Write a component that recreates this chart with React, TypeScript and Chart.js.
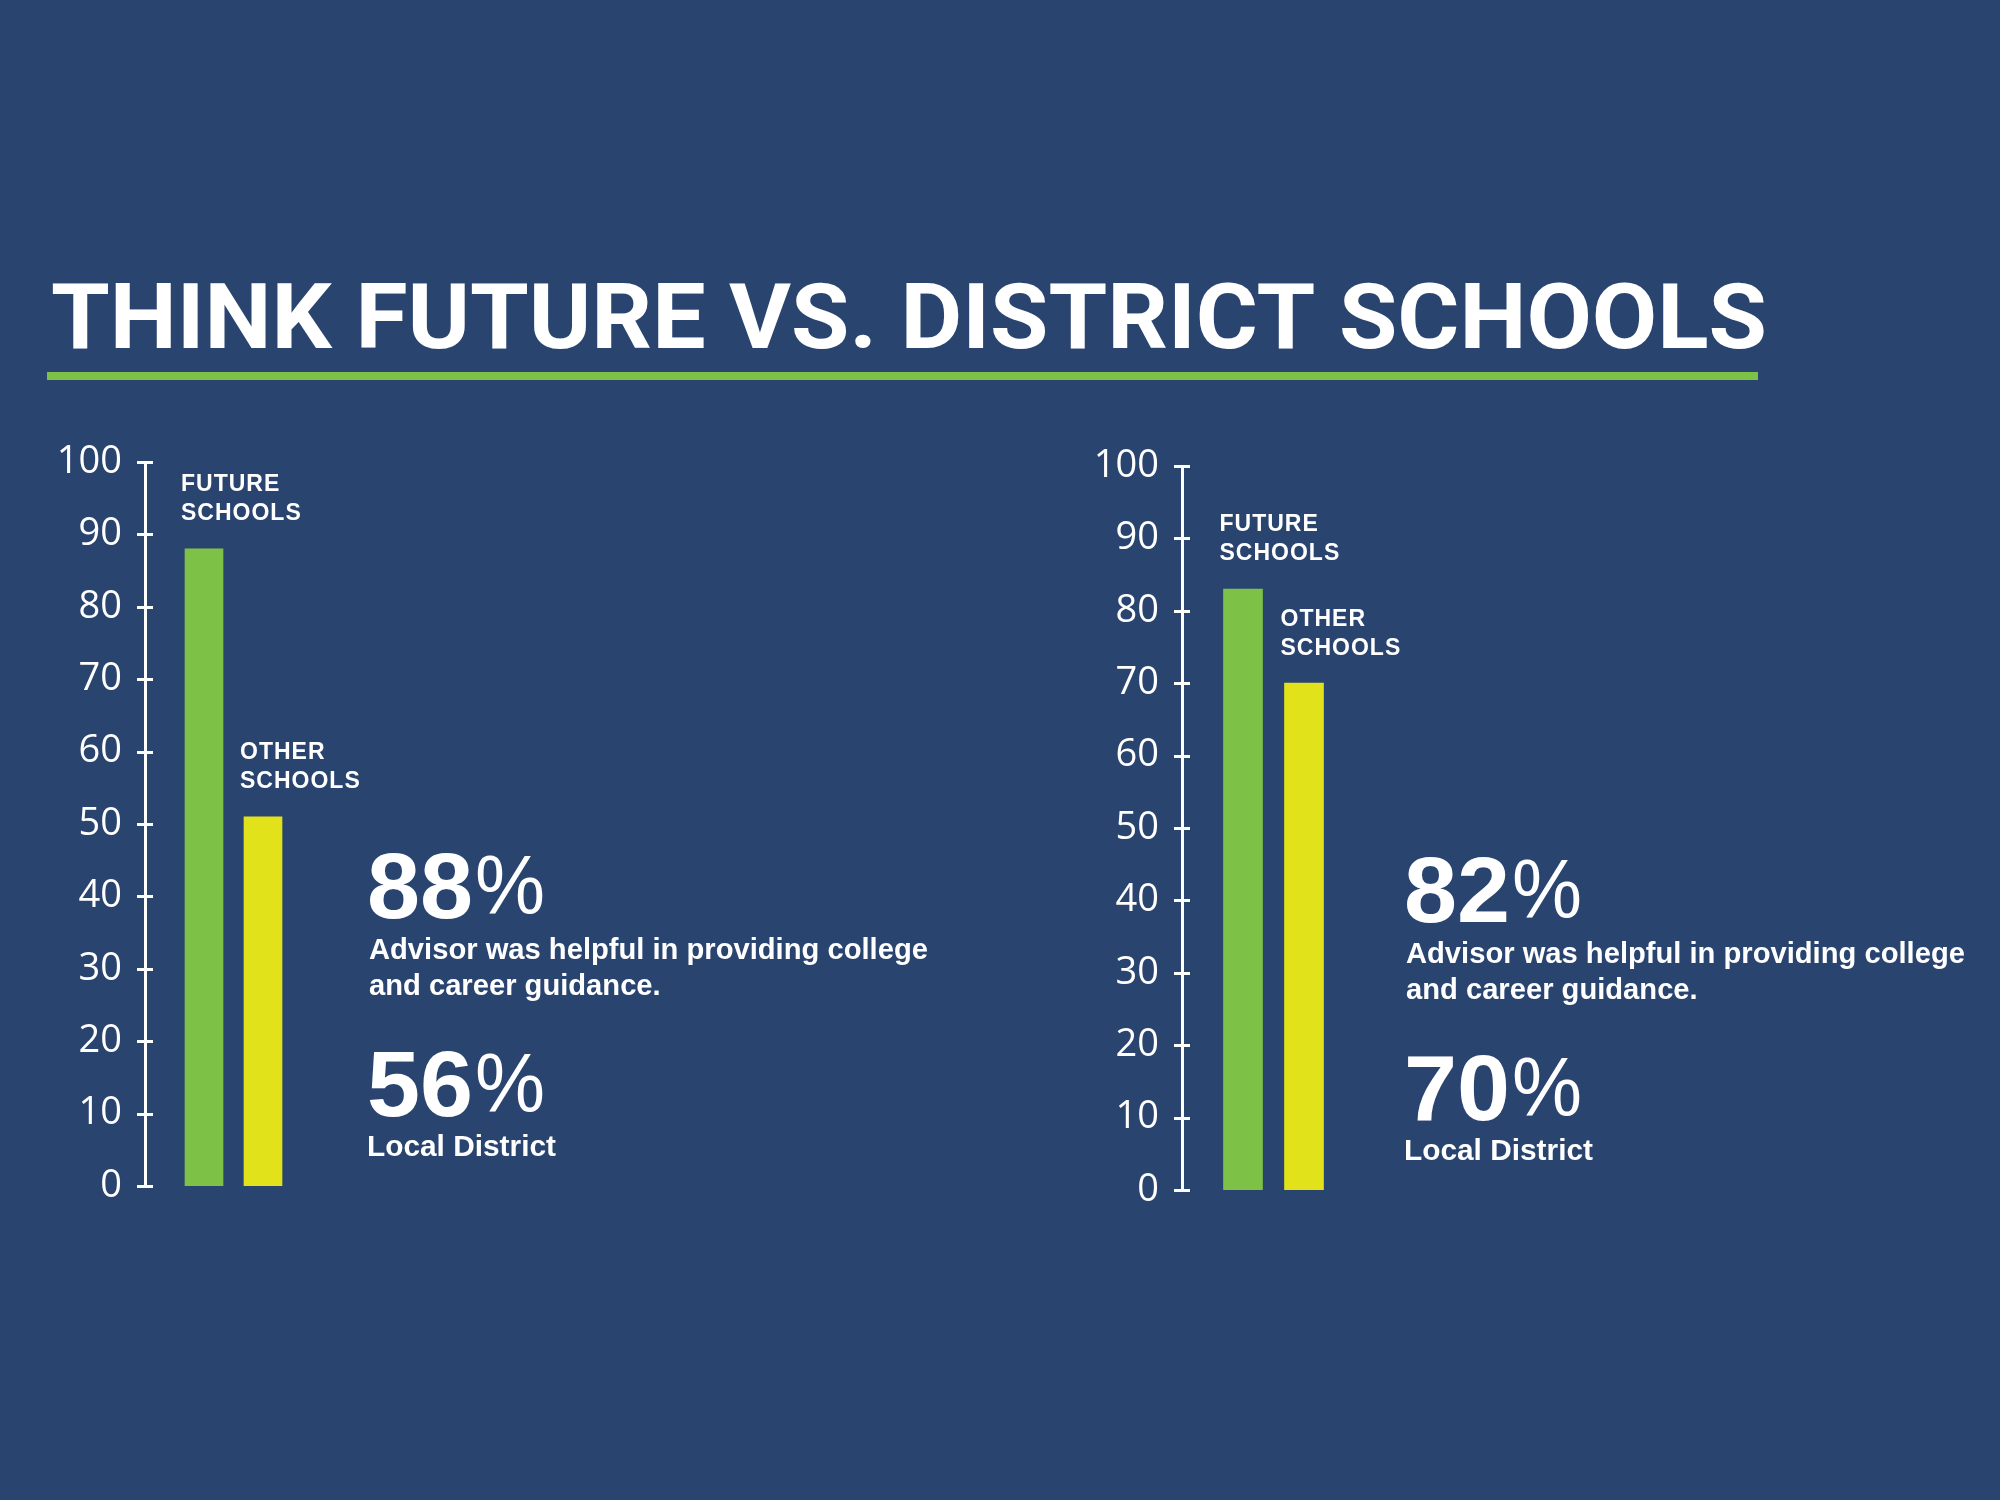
import React, { useEffect, useRef } from 'react';
import { Chart, registerables } from 'chart.js';

Chart.register(...registerables);

const PAGE_W = 2000;
const PAGE_H = 1500;
const BG = '#2a4470';
const GREEN = '#7dc247';
const YELLOW = '#e1e219';
const WHITE = '#ffffff';

// ---- data ----
const titleText = 'THINK FUTURE VS. DISTRICT SCHOOLS';
const seriesNames = [['FUTURE', 'SCHOOLS'], ['OTHER', 'SCHOOLS']];
const barPositions = [1, 2];
const leftValues = [88, 51];
const rightValues = [83, 70];
const yMin = 0;
const yMax = 100;
const yStep = 10;
const headlineNumbers = ['88', '82'];
const districtNumbers = ['56', '70'];
const captionLines = ['Advisor was helpful in providing college', 'and career guidance.'];
const districtCaption = 'Local District';

const NUM_FAMILY = '"Liberation Sans"';
const TXT_FAMILY = '"Liberation Sans"';

function fitSize(ctx: CanvasRenderingContext2D, text: string, weight: string, family: string, targetW: number) {
  ctx.font = `${weight} 100px ${family}`;
  const w = ctx.measureText(text).width;
  return (100 * targetW) / w;
}

function drawStat(ctx: CanvasRenderingContext2D, x: number, dy: number, idx: number) {
  ctx.save();
  ctx.fillStyle = WHITE;
  ctx.textAlign = 'left';
  ctx.textBaseline = 'alphabetic';
  const drawNum = (num: string, baseline: number) => {
    ctx.font = `bold 92px ${NUM_FAMILY}`;
    const w = ctx.measureText(num).width;
    const sx = 106 / w;
    ctx.save();
    ctx.translate(x, baseline);
    ctx.scale(sx, 1);
    ctx.fillText(num, 0, 0);
    ctx.restore();
    ctx.font = `400 84px ${NUM_FAMILY}`;
    const pw = ctx.measureText('%').width;
    ctx.save();
    ctx.translate(x + 108, baseline - 4);
    ctx.scale(70 / pw, 1);
    ctx.fillText('%', 0, 0);
    ctx.restore();
  };
  drawNum(headlineNumbers[idx], 918 + dy);
  const capSize = fitSize(ctx, captionLines[0], 'bold', TXT_FAMILY, 559);
  ctx.font = `bold ${capSize}px ${TXT_FAMILY}`;
  ctx.textBaseline = 'middle';
  ctx.fillText(captionLines[0], x + 2, 951 + dy);
  ctx.fillText(captionLines[1], x + 2, 987 + dy);
  ctx.textBaseline = 'alphabetic';
  drawNum(districtNumbers[idx], 1116 + dy);
  const locSize = fitSize(ctx, districtCaption, 'bold', TXT_FAMILY, 189);
  ctx.font = `bold ${locSize}px ${TXT_FAMILY}`;
  ctx.textBaseline = 'middle';
  ctx.fillText(districtCaption, x, 1148 + dy);
  ctx.restore();
}

type Panel = {
  values: number[];
  axisX: number;
  top: number;
  bottom: number;
  unitPx: number;
  barW: number;
  textX: number;
  textDy: number;
  idx: number;
  withTitle: boolean;
};

function makeConfig(p: Panel): any {
  const decor = {
    id: 'decor',
    afterDraw(chart: any) {
      const ctx: CanvasRenderingContext2D = chart.ctx;
      const ys = chart.scales.y;
      // tick marks crossing the axis
      ctx.save();
      ctx.strokeStyle = WHITE;
      ctx.lineWidth = 3;
      ys.ticks.forEach((t: any) => {
        const py = Math.round(ys.getPixelForValue(t.value)) + 0.5;
        ctx.beginPath();
        ctx.moveTo(p.axisX - 8, py);
        ctx.lineTo(p.axisX + 8, py);
        ctx.stroke();
      });
      ctx.restore();

      // bar labels
      const meta = chart.getDatasetMeta(0);
      ctx.save();
      ctx.fillStyle = WHITE;
      ctx.font = `bold 23px ${TXT_FAMILY}`;
      (ctx as any).letterSpacing = '1px';
      ctx.textAlign = 'left';
      ctx.textBaseline = 'middle';
      meta.data.forEach((el: any, i: number) => {
        const left = el.x - el.width / 2 - 4;
        ctx.fillText(seriesNames[i][0], left, el.y - 64);
        ctx.fillText(seriesNames[i][1], left, el.y - 35);
      });
      (ctx as any).letterSpacing = '0px';
      ctx.restore();

      drawStat(ctx, p.textX, p.textDy, p.idx);

      if (p.withTitle) {
        ctx.save();
        ctx.fillStyle = WHITE;
        ctx.font = 'bold 91px Roboto';
        ctx.textBaseline = 'alphabetic';
        const w = ctx.measureText(titleText).width;
        ctx.translate(51, 348);
        ctx.scale(1716 / w, 1);
        ctx.fillText(titleText, 0, 0);
        ctx.restore();
        ctx.save();
        ctx.fillStyle = GREEN;
        ctx.fillRect(47, 372, 1711, 8);
        ctx.restore();
      }
    },
  };

  return {
    type: 'bar',
    data: {
      datasets: [
        {
          data: p.values.map((v, i) => ({ x: barPositions[i], y: v })),
          backgroundColor: [GREEN, YELLOW],
          borderWidth: 0,
          barThickness: p.barW,
        },
      ],
    },
    options: {
      responsive: false,
      animation: false,
      devicePixelRatio: 1,
      layout: {
        padding: {
          left: 0,
          top: p.top,
          bottom: PAGE_H - p.bottom,
          right: PAGE_W - (p.axisX + p.unitPx * 3),
        },
      },
      plugins: { legend: { display: false }, tooltip: { enabled: false }, title: { display: false } },
      scales: {
        x: { type: 'linear', min: 0, max: 3, offset: false, display: false },
        y: {
          min: yMin,
          max: yMax,
          ticks: {
            stepSize: yStep,
            color: WHITE,
            font: { family: '"Open Sans"', size: 38, weight: 'normal' },
            padding: 23,
          },
          grid: { display: false, drawTicks: false },
          border: { display: true, color: WHITE, width: 3 },
          afterFit: (s: any) => {
            s.width = p.axisX;
          },
        },
      },
    },
    plugins: [decor],
  };
}

const leftPanel: Panel = {
  values: leftValues, axisX: 145, top: 462, bottom: 1186, unitPx: 59, barW: 38,
  textX: 367, textDy: 0, idx: 0, withTitle: true,
};
const rightPanel: Panel = {
  values: rightValues, axisX: 1182, top: 466, bottom: 1190, unitPx: 61, barW: 39,
  textX: 1404, textDy: 4, idx: 1, withTitle: false,
};

export default function App() {
  const leftRef = useRef<HTMLCanvasElement>(null);
  const rightRef = useRef<HTMLCanvasElement>(null);

  useEffect(() => {
    document.body.style.margin = '0';
    const c1 = new Chart(leftRef.current as HTMLCanvasElement, makeConfig(leftPanel));
    const c2 = new Chart(rightRef.current as HTMLCanvasElement, makeConfig(rightPanel));
    return () => {
      c1.destroy();
      c2.destroy();
    };
  }, []);

  const canvasStyle: React.CSSProperties = { position: 'absolute', left: 0, top: 0, width: PAGE_W, height: PAGE_H };
  return (
    <div style={{ position: 'absolute', left: 0, top: 0, width: PAGE_W, height: PAGE_H, background: BG, overflow: 'hidden' }}>
      <canvas ref={leftRef} width={PAGE_W} height={PAGE_H} style={canvasStyle} />
      <canvas ref={rightRef} width={PAGE_W} height={PAGE_H} style={canvasStyle} />
    </div>
  );
}
